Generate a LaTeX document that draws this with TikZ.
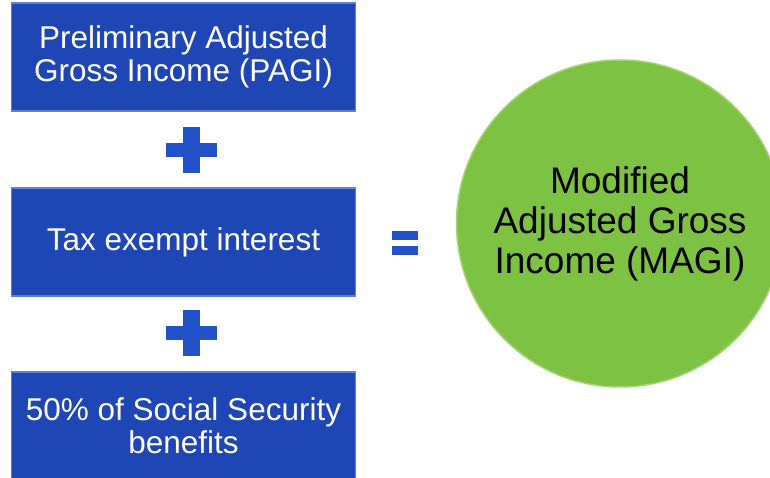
\documentclass[tikz,border=0pt]{standalone}
\usepackage{fontspec}
\setmainfont{Liberation Sans}
\definecolor{boxblue}{HTML}{1E46B4}
\definecolor{boxedge}{HTML}{5A82DC}
\definecolor{signblue}{HTML}{2152C8}
\definecolor{magigreen}{HTML}{7DC243}
\definecolor{greenedge}{HTML}{A2D672}
\begin{document}
\begin{tikzpicture}[x=1pt,y=-1pt,
  termbox/.style={rectangle, fill=boxblue, draw=boxedge, line width=1.5pt,
    minimum width=344pt, minimum height=108pt, inner sep=0pt, text=white,
    align=center, font=\fontsize{31.5}{33}\selectfont},
  sign/.style={fill=signblue},
  result/.style={circle, fill=magigreen, draw=greenedge, line width=1.5pt,
    minimum size=327pt, inner sep=0pt, text=black, align=center,
    font=\fontsize{37}{40}\selectfont}]
\useasboundingbox (0,0) rectangle (770,478);
\clip (0,0) rectangle (770,478);
\node[termbox] (pagi) at (183.5,57) {\raisebox{-3pt}{\parbox{344pt}{\centering Preliminary Adjusted\\Gross Income (PAGI)}}};
\node[termbox] (tax) at (183.5,242) {\raisebox{-2pt}{Tax exempt interest}};
\node[termbox] (ss) at (183.5,426) {\raisebox{17pt}{\parbox{344pt}{\centering 50\% of Social Security\\benefits}}};
\node[result] (magi) at (620,223.5) {Modified\\Adjusted Gross\\Income (MAGI)};
% plus signs
\foreach \cy in {150,333}{
  \fill[sign] (165.5,\cy-7) rectangle (216.5,\cy+7);
  \fill[sign] (182.5,\cy-23) rectangle (199.5,\cy+23);
}
% equals sign
\fill[sign] (392,231) rectangle (418,240);
\fill[sign] (392,246) rectangle (418,255);
\end{tikzpicture}
\end{document}
